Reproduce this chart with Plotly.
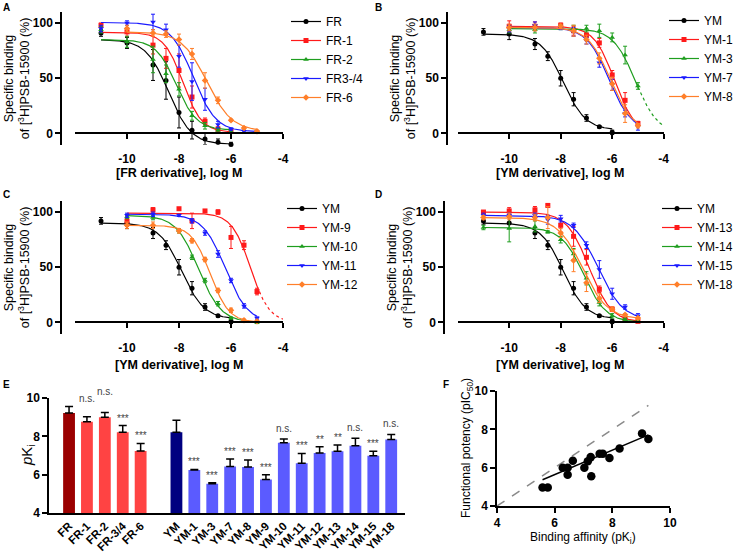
import numpy as np
import plotly.graph_objects as go

W, H = 738, 554
FONT = "Liberation Sans, Arial, sans-serif"

# ------------------------------------------------------------------ data
# Panels A-D : log concentration, mean specific binding (%), SEM,
# fitted 4-parameter logistic (top, bottom, logIC50, hill), extrapolation end
A_names = ["FR", "FR-1", "FR-2", "FR3-/4", "FR-6"]
A_logc = [
    [-11, -10, -9, -8.5, -8, -7.5, -7, -6.5, -6],
    [-11, -10, -9, -8.5, -8, -7.5, -7, -6.5, -6],
    [-11, -10, -9, -8.5, -8, -7.5, -7, -6.5, -6],
    [-11, -10, -9, -8.5, -8, -7.5, -7, -6.5, -6, -5.5, -5],
    [-10, -9, -8.5, -8, -7.5, -7, -6.5, -6, -5.5, -5],
]
A_mean = [
    [91, 82, 62, 48, 19, 3, -5, -8, -10],
    [98, 92, 80, 68, 57, 33, 11, 4, 2],
    [94, 83, 67, 54, 40, 16, 7, 3, 1],
    [95, 100, 101, 94, 70, 47, 31, 8, 4, 2, 1.5],
    [95, 91, 90, 85, 72, 48, 30, 12, 5, 2],
]
A_sem = [
    [3, 5, 14, 17, 14, 8, 5, 3, 2],
    [2, 4, 8, 9, 15, 10, 3, 2, 2],
    [3, 5, 12, 8, 6, 4, 3, 2, 1],
    [3, 2, 7, 5, 10, 17, 10, 3, 1, 1, 1],
    [3, 3, 3, 5, 5, 7, 3, 1, 1, 1],
]
A_fit = [(85, -10, -8.4, 1.0), (91.5, 1, -7.85, 1.2), (85, 3, -8.1, 1.1),
         (100.5, 1.5, -7.45, 1.0), (92, 2, -6.93, 0.9)]
A_extrap = [None, None, None, None, None]

YM_logc = [-11, -10, -9, -8.5, -8, -7.5, -7, -6.5, -6]
YM_mean = [92, 90, 81, 70, 50, 31, 14, 6, 1]
YM_sem = [3, 5, 5, 4, 7, 6, 3, 1, 2]
YM_fit = (90, 3, -7.9, 1.0)

grid9 = [-10, -9, -8, -7.5, -7, -6.5, -6, -5.5, -5]
grid11 = [-11, -10, -9, -8.5, -8, -7.5, -7, -6.5, -6, -5.5, -5]

B_names = ["YM", "YM-1", "YM-3", "YM-7", "YM-8"]
B_logc = [YM_logc, grid9, grid9, grid9, grid9]
B_mean = [YM_mean,
          [97, 97, 98, 93, 89, 82, 53, 30, 9],
          [94, 94, 96, 95, 95, 93, 87, 71, 43],
          [95, 98, 96, 92, 84, 64, 44, 18, 6],
          [96, 96, 97, 93, 85, 68, 45, 18, 7]]
B_sem = [YM_sem,
         [5, 4, 2, 4, 2, 4, 4, 7, 2],
         [3, 3, 2, 3, 3, 6, 4, 8, 3],
         [3, 3, 2, 4, 3, 4, 5, 3, 3],
         [3, 3, 2, 5, 4, 5, 6, 8, 2]]
B_fit = [YM_fit, (97, 0, -5.92, 1.1), (95, 0, -5.1, 1.0), (96, 2, -6.12, 1.0), (96, 2, -6.08, 1.0)]
B_extrap = [None, None, -4.0, None, None]

C_names = ["YM", "YM-9", "YM-10", "YM-11", "YM-12"]
C_logc = [YM_logc, grid9, grid9, grid9, grid9]
C_mean = [YM_mean,
          [92, 102, 103, 92, 101, 100, 77, 70, 28],
          [96, 95, 83, 59, 38, 17, 4, 1, 0],
          [97, 98, 97, 92, 81, 62, 38, 15, 4],
          [88, 88, 83, 74, 57, 29, 11, 2, 1]]
C_sem = [YM_sem,
         [5, 2, 1, 7, 1, 2, 10, 4, 3],
         [2, 2, 2, 2, 2, 2, 1, 1, 1],
         [2, 2, 1, 2, 2, 3, 2, 2, 1],
         [3, 3, 2, 2, 2, 2, 2, 1, 1]]
C_fit = [YM_fit, (99, 0, -5.25, 1.2), (97, 0, -7.25, 1.0), (98, 0, -6.22, 1.0), (88, 0, -6.8, 1.2)]
C_extrap = [None, -4.0, None, None, None]

D_names = ["YM", "YM-13", "YM-14", "YM-15", "YM-18"]
D_logc = [YM_logc, grid11, grid11, grid11, grid11]
D_mean = [YM_mean,
          [100, 101, 102, 106, 88, 78, 59, 30, 12, 3, 1],
          [86, 85, 87, 82, 75, 62, 40, 18, 6, 3, 1],
          [97, 97, 97, 93, 94, 88, 70, 48, 26, 14, 6],
          [95, 96, 95, 95, 81, 56, 36, 22, 12, 7, 4]]
D_sem = [YM_sem,
         [1, 3, 3, 1, 6, 9, 7, 3, 2, 1, 1],
         [2, 12, 5, 1, 3, 5, 6, 3, 2, 1, 1],
         [2, 2, 2, 4, 3, 2, 3, 8, 5, 2, 2],
         [2, 3, 3, 10, 4, 10, 8, 4, 2, 1, 1]]
D_fit = [YM_fit, (100, 0, -6.9, 1.0), (86, 0, -7.1, 1.0), (97, 2, -6.55, 0.9), (95, 3, -7.15, 0.9)]
D_extrap = [None, None, None, None, None]

DR_xticks = [-10, -8, -6, -4]
DR_yticks = [0, 50, 100]

# Panel E : pKi bars
E_names = ["FR", "FR-1", "FR-2", "FR-3/4", "FR-6",
           "YM", "YM-1", "YM-3", "YM-7", "YM-8", "YM-9", "YM-10",
           "YM-11", "YM-12", "YM-13", "YM-14", "YM-15", "YM-18"]
E_group = ["FR"] * 5 + ["YM"] * 13
E_pki = [9.22, 8.76, 8.99, 8.21, 7.23, 8.21, 6.24, 5.53, 6.42, 6.40, 5.75, 7.67,
         6.59, 7.13, 7.22, 7.51, 6.99, 7.84]
E_sem = [0.33, 0.26, 0.26, 0.35, 0.40, 0.63, 0.03, 0.05, 0.40, 0.37, 0.25, 0.19,
         0.52, 0.33, 0.33, 0.39, 0.23, 0.26]
E_sig = ["", "n.s.", "n.s.", "***", "***", "", "***", "***", "***", "***", "***", "n.s.",
         "***", "**", "**", "n.s.", "***", "n.s."]
E_yticks = [4, 6, 8, 10]

# Panel F : functional potency vs binding affinity
F_pki = [5.58, 5.76, 6.28, 6.45, 6.45, 6.63, 7.03, 7.15, 7.25, 7.27, 7.56, 7.67, 7.90, 8.25, 9.03, 9.25]
F_pic50 = [4.97, 4.97, 6.00, 6.00, 5.63, 6.36, 6.00, 6.34, 6.55, 5.55, 6.73, 6.73, 6.50, 7.00, 7.78, 7.49]
F_fit_slope = 0.638
F_fit_intercept = 1.81
F_identity = [4, 9.25]
F_ticks = [4, 6, 8, 10]

# ------------------------------------------------------------------ styles / layout helpers
SER_COLORS = ["#000000", "#ff1a1a", "#1f9e1f", "#1a1aff", "#ff7f2a"]
SER_SYMBOLS = ["circle", "square", "triangle-up", "triangle-down", "diamond"]
BAR_COLORS = {"FR": ("#9b0000", "#ff4343"), "YM": ("#000080", "#5b5bff")}


def px(xp):
    return xp / W


def py(yp):
    return 1 - yp / H


def logistic(x, top, bottom, logic50, hill):
    return bottom + (top - bottom) / (1 + 10 ** ((x - logic50) * hill))


fig = go.Figure()

tickfont = dict(family=FONT, size=12, color="black", weight="bold")
axis_common = dict(showgrid=False, zeroline=False, showline=True, linecolor="black",
                   linewidth=1.5, ticks="outside", ticklen=5, tickwidth=1.5,
                   tickcolor="black", tickfont=tickfont)

# panel geometry (pixels): x-domain, y-domain (top, bottom), y-axis line x, legend anchor
DR_panels = {
    1: dict(xd=(75, 283), yd=(12, 144.5), yline=61, leg=(286, 7, "left")),
    2: dict(xd=(457.7, 663.7), yd=(12, 144.5), yline=447, leg=(738, 6, "right")),
    3: dict(xd=(75, 283), yd=(201, 333.5), yline=61, leg=(282, 194, "left")),
    4: dict(xd=(457.7, 663.7), yd=(201, 333.5), yline=444, leg=(738, 194, "right")),
}
Y_RANGE = [-10, 110]

panel_data = {
    1: (A_names, A_logc, A_mean, A_sem, A_fit, A_extrap),
    2: (B_names, B_logc, B_mean, B_sem, B_fit, B_extrap),
    3: (C_names, C_logc, C_mean, C_sem, C_fit, C_extrap),
    4: (D_names, D_logc, D_mean, D_sem, D_fit, D_extrap),
}
legend_ids = {1: "legend", 2: "legend2", 3: "legend3", 4: "legend4"}

for idx, (names, logc, means, sems, fits, extraps) in panel_data.items():
    xa, ya = f"x{idx}", f"y{idx}"
    for i, name in enumerate(names):
        c = SER_COLORS[i]
        xd = np.array(logc[i], dtype=float)
        xc = np.linspace(xd.min(), xd.max(), 200)
        fig.add_trace(go.Scatter(x=xc, y=logistic(xc, *fits[i]), mode="lines",
                                 line=dict(color=c, width=1.2), xaxis=xa, yaxis=ya,
                                 showlegend=False, hoverinfo="skip"))
        if extraps[i] is not None:
            xe = np.linspace(xd.max(), extraps[i], 60)
            fig.add_trace(go.Scatter(x=xe, y=logistic(xe, *fits[i]), mode="lines",
                                     line=dict(color=c, width=1.2, dash="dot"),
                                     xaxis=xa, yaxis=ya, showlegend=False, hoverinfo="skip"))
        fig.add_trace(go.Scatter(x=xd, y=means[i], mode="markers",
                                 marker=dict(symbol=SER_SYMBOLS[i], size=5, color=c),
                                 error_y=dict(type="data", array=sems[i], color=c,
                                              thickness=1, width=2),
                                 xaxis=xa, yaxis=ya, showlegend=False, cliponaxis=False))
        # legend entry
        fig.add_trace(go.Scatter(x=[None], y=[None], mode="lines+markers", name=name,
                                 line=dict(color=c, width=1.2),
                                 marker=dict(symbol=SER_SYMBOLS[i], size=5, color=c),
                                 xaxis=xa, yaxis=ya, legend=legend_ids[idx]))

    g = DR_panels[idx]
    ydom = [py(g["yd"][1]), py(g["yd"][0])]
    zero_pos = ydom[0] + (0 - Y_RANGE[0]) / (Y_RANGE[1] - Y_RANGE[0]) * (ydom[1] - ydom[0])
    fig.layout[f"xaxis{idx}"] = dict(axis_common, domain=[px(g["xd"][0]), px(g["xd"][1])],
                                     range=[-12, -4], anchor="free", position=zero_pos,
                                     tickvals=DR_xticks, ticktext=[f"{v:g}" for v in DR_xticks],
                                     ticklabelstandoff=9)
    fig.layout[f"yaxis{idx}"] = dict(axis_common, domain=ydom, range=Y_RANGE, anchor="free",
                                     position=px(g["yline"]), tickvals=DR_yticks,
                                     ticktext=[f"{v:g}" for v in DR_yticks])
    lg = g["leg"]
    fig.layout[legend_ids[idx]] = dict(x=px(lg[0]), y=py(lg[1]), xanchor=lg[2], yanchor="top",
                                       bgcolor="rgba(0,0,0,0)", borderwidth=0,
                                       font=dict(family=FONT, size=12, color="black"),
                                       tracegroupgap=0, itemclick=False)

# ------------------------------------------------------------------ panel E
pos = []
slot = 0
prev_group = E_group[0]
for gname in E_group:
    if gname != prev_group:
        slot += 1
        prev_group = gname
    pos.append(slot)
    slot += 1
bar_colors = []
for name, gname in zip(E_names, E_group):
    bar_colors.append(BAR_COLORS[gname][0] if name == gname else BAR_COLORS[gname][1])

fig.add_trace(go.Bar(x=pos, y=E_pki, width=0.66, marker=dict(color=bar_colors, line=dict(width=0)),
                     error_y=dict(type="data", symmetric=False, array=E_sem,
                                  arrayminus=[0] * len(E_sem), color="black", thickness=1.5, width=4),
                     xaxis="x5", yaxis="y5", showlegend=False))
fig.layout.xaxis5 = dict(showgrid=False, zeroline=False, showline=True, linecolor="black", linewidth=1.5,
                         ticks="", domain=[px(49), px(405)], range=[-1.12, 18.77], anchor="y5",
                         tickvals=pos, ticktext=E_names, tickangle=-45,
                         tickfont=dict(family=FONT, size=11.5, color="black", weight="bold"))
fig.layout.yaxis5 = dict(axis_common, domain=[py(513), py(398)], range=[4, 10], anchor="x5",
                         tickvals=E_yticks, ticktext=[str(v) for v in E_yticks])

extra_shift = {"FR-1": 8, "FR-2": 10}
for p, v, s, lab, name in zip(pos, E_pki, E_sem, E_sig, E_names):
    if not lab:
        continue
    fig.add_annotation(x=p, y=v + s, xref="x5", yref="y5", text=lab, showarrow=False,
                       yanchor="bottom", yshift=(3 if lab == "n.s." else 0) + extra_shift.get(name, 0),
                       font=dict(family=FONT, size=10, color="#444444"))

# ------------------------------------------------------------------ panel F
fx = np.array(F_pki)
line_x = np.array([fx.min(), fx.max()])
fig.add_trace(go.Scatter(x=F_identity, y=F_identity, mode="lines",
                         line=dict(color="#8a8a8a", width=1.5, dash="dash"),
                         xaxis="x6", yaxis="y6", showlegend=False, hoverinfo="skip"))
fig.add_trace(go.Scatter(x=line_x, y=F_fit_slope * line_x + F_fit_intercept, mode="lines",
                         line=dict(color="black", width=1.5),
                         xaxis="x6", yaxis="y6", showlegend=False, hoverinfo="skip"))
fig.add_trace(go.Scatter(x=F_pki, y=F_pic50, mode="markers",
                         marker=dict(color="black", size=8.5),
                         xaxis="x6", yaxis="y6", showlegend=False))
fig.layout.xaxis6 = dict(axis_common, domain=[px(497), px(670)], range=[4, 10], anchor="y6",
                         tickvals=F_ticks, ticktext=[str(v) for v in F_ticks])
fig.layout.yaxis6 = dict(axis_common, domain=[py(506), py(391)], range=[4, 10], anchor="x6",
                         tickvals=F_ticks, ticktext=[str(v) for v in F_ticks])

# ------------------------------------------------------------------ titles / labels
def ann(x, y, text, size=12, angle=0, bold=False, xanchor="center", yanchor="middle", color="black"):
    fig.add_annotation(x=px(x), y=py(y), xref="paper", yref="paper", text=text, showarrow=False,
                       textangle=angle, xanchor=xanchor, yanchor=yanchor,
                       font=dict(family=FONT, size=size, color=color, weight="bold" if bold else "normal"))

ytitle = "Specific binding<br>of [<sup>3</sup>H]PSB-15900 (%)"
for idx, g in DR_panels.items():
    ycen = (g["yd"][0] + g["yd"][1]) / 2
    ann(g["yline"] - 44, ycen, ytitle, size=12.5, angle=-90)
ann(179, 173, "[FR derivative], log M", size=12.5, bold=True)
ann(560, 173, "[YM derivative], log M", size=12.5, bold=True)
ann(179, 365, "[YM derivative], log M", size=12.5, bold=True)
ann(560, 365, "[YM derivative], log M", size=12.5, bold=True)

ann(27, 455, "<i>p</i>K<sub>i</sub>", size=15, angle=-90)
ann(467, 448, "Functional potency (pIC<sub>50</sub>)", size=12, angle=-90)
ann(583, 538, "Binding affinity (pK<sub>i</sub>)", size=12)

for letter, x, y in [("A", 1, 0), ("B", 373, 0), ("C", 1, 187), ("D", 373, 187), ("E", 1, 377), ("F", 441, 377)]:
    ann(x, y, letter, size=10, bold=True, xanchor="left", yanchor="top")

fig.update_layout(width=W, height=H, margin=dict(l=0, r=0, t=0, b=0, autoexpand=False),
                  paper_bgcolor="white", plot_bgcolor="white",
                  font=dict(family=FONT, color="black"))

fig.write_html("out.html", config={"displayModeBar": False},
               post_script="document.body.style.margin='0px';")
